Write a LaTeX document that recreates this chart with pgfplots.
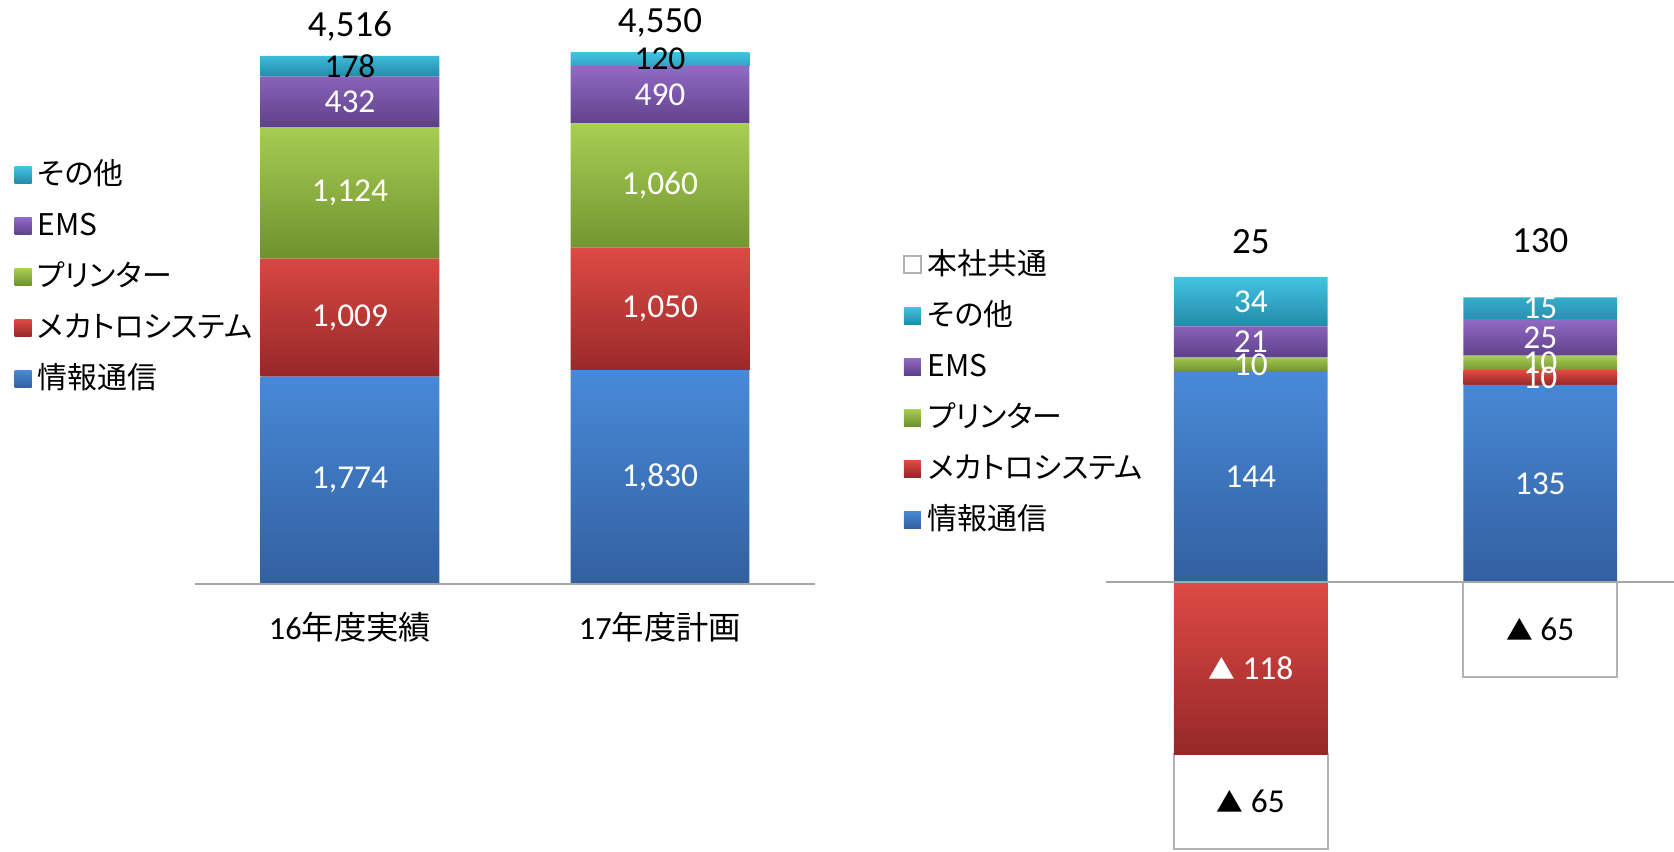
\documentclass[border=0pt]{standalone}
\usepackage{pgfplots}
\pgfplotsset{compat=1.18}
\usepackage{fontspec}
\setmainfont{Carlito}
\newfontfamily\jp[RawFeature=+palt]{Noto Sans CJK JP}
\newcommand{\tri}{{\jp\fontsize{7.6}{9}\selectfont ▲}}
\definecolor{bluet}{RGB}{72,138,216}
\definecolor{blueb}{RGB}{50,96,160}
\definecolor{redt}{RGB}{222,74,68}
\definecolor{redb}{RGB}{150,40,40}
\definecolor{greent}{RGB}{168,206,84}
\definecolor{greenb}{RGB}{110,145,45}
\definecolor{purplet}{RGB}{146,106,196}
\definecolor{purpleb}{RGB}{94,64,138}
\definecolor{cyant}{RGB}{66,196,226}
\definecolor{cyanb}{RGB}{34,138,168}
\tikzset{
  wl/.style={font=\fontsize{9.5}{11}\selectfont, text=white, inner sep=0pt},
  bl/.style={font=\fontsize{9.5}{11}\selectfont, text=black, inner sep=0pt},
  tl/.style={font=\fontsize{10.5}{12}\selectfont, text=black, inner sep=0pt},
}
\pgfplotsset{
  sblue/.style={draw=none, top color=bluet, bottom color=blueb},
  sred/.style={draw=none, top color=redt, bottom color=redb},
  sgreen/.style={draw=none, top color=greent, bottom color=greenb},
  spurple/.style={draw=none, top color=purplet, bottom color=purpleb},
  scyan/.style={draw=none, top color=cyant, bottom color=cyanb},
  swhite/.style={fill=white, draw=black!30, line width=0.6pt},
  mylegend/.style={
    legend style={draw=none, fill=none, inner sep=0pt, row sep=0pt,
      at={#1}, anchor=north west,
      font=\jp\fontsize{8.5}{9.5}\selectfont,
      nodes={inner sep=0pt, text height=3.3mm, text depth=1.8mm},
      /tikz/every odd column/.append style={column sep=0.6mm}},
    legend cell align=left,
    legend image code/.code={\path[##1] (0cm,-0.06cm) rectangle (0.17cm,0.11cm);},
  },
  leftframe/.style={
    at={(1.95cm,2.67cm)}, anchor=south west,
    scale only axis, width=6.2cm, height=5.84cm,
    xmin=-0.5, xmax=1.5, ymin=0, ymax=4995, clip=false,
  },
  rightframe/.style={
    at={(11.06cm,0cm)}, anchor=south west,
    scale only axis, width=5.68cm, height=8.51cm,
    xmin=-0.5, xmax=1.462, ymin=-184.2, ymax=398.6, clip=false,
  },
}
\begin{document}
\begin{tikzpicture}
\path[use as bounding box] (0,0) rectangle (16.74cm,8.51cm);
% ---------------- left chart ----------------
\begin{axis}[
  leftframe,
  ybar stacked, bar width=0.576,
  axis line style={draw=none}, major tick length=0pt,
  ytick=\empty, xtick={0,1},
  xticklabels={{16\jp 年度実績},{17\jp 年度計画}},
  xticklabel style={font=\fontsize{9.2}{11}\selectfont, anchor=center, yshift=-4.3mm},
  mylegend={(-0.292,0.741)},
  reverse legend,
]
\draw[black!35, line width=0.6pt] (axis cs:-0.5,0) -- (axis cs:1.5,0);
\addplot[sblue] coordinates {(0,1774) (1,1830)};
\addlegendentry{情報通信}
\addplot[sred] coordinates {(0,1009) (1,1050)};
\addlegendentry{メカトロシステム}
\addplot[sgreen] coordinates {(0,1124) (1,1060)};
\addlegendentry{プリンター}
\addplot[spurple] coordinates {(0,432) (1,490)};
\addlegendentry{EMS}
\addplot[scyan] coordinates {(0,178) (1,120)};
\addlegendentry{その他}
\end{axis}
\begin{axis}[leftframe, hide axis]
\node[wl] at (axis cs:0,887) {1,774};
\node[wl] at (axis cs:0,2278) {1,009};
\node[wl] at (axis cs:0,3345) {1,124};
\node[wl] at (axis cs:0,4123) {432};
\node[bl] at (axis cs:0,4428) {178};
\node[wl] at (axis cs:1,915) {1,830};
\node[wl] at (axis cs:1,2355) {1,050};
\node[wl] at (axis cs:1,3410) {1,060};
\node[wl] at (axis cs:1,4185) {490};
\node[bl] at (axis cs:1,4490) {120};
\node[tl] at (axis cs:0,4772) {4,516};
\node[tl] at (axis cs:1,4798) {4,550};
\end{axis}
% ---------------- right chart: negative parts ----------------
\begin{axis}[
  rightframe,
  ybar stacked, bar width=0.531,
  hide axis,
]
\addplot[sred] coordinates {(0,-118) (1,0)};
\addplot[swhite] coordinates {(0,-65) (1,-65)};
\end{axis}
% ---------------- right chart: positive parts ----------------
\begin{axis}[
  rightframe,
  ybar stacked, bar width=0.531,
  hide axis,
  mylegend={(-0.359,0.717)},
  reverse legend,
]
\draw[black!35, line width=0.6pt] (axis cs:-0.5,0) -- (axis cs:1.462,0);
\addplot[sblue] coordinates {(0,144) (1,135)};
\addlegendentry{情報通信}
\addplot[sred] coordinates {(0,0) (1,10)};
\addlegendentry{メカトロシステム}
\addplot[sgreen] coordinates {(0,10) (1,10)};
\addlegendentry{プリンター}
\addplot[spurple] coordinates {(0,21) (1,25)};
\addlegendentry{EMS}
\addplot[scyan] coordinates {(0,34) (1,15)};
\addlegendentry{その他}
\addlegendimage{swhite}
\addlegendentry{本社共通}
\end{axis}
\begin{axis}[rightframe, hide axis]
\node[wl] at (axis cs:0,-59) {\tri\ 118};
\node[bl] at (axis cs:0,-150.5) {\tri\ 65};
\node[bl] at (axis cs:1,-32.5) {\tri\ 65};
\node[wl] at (axis cs:0,72) {144};
\node[wl] at (axis cs:0,149) {10};
\node[wl] at (axis cs:0,164.5) {21};
\node[wl] at (axis cs:0,192) {34};
\node[wl] at (axis cs:1,67.5) {135};
\node[wl] at (axis cs:1,140) {10};
\node[wl] at (axis cs:1,150) {10};
\node[wl] at (axis cs:1,167.5) {25};
\node[wl] at (axis cs:1,187.5) {15};
\node[tl] at (axis cs:0,233) {25};
\node[tl] at (axis cs:1,234) {130};
\end{axis}
\end{tikzpicture}
\end{document}
